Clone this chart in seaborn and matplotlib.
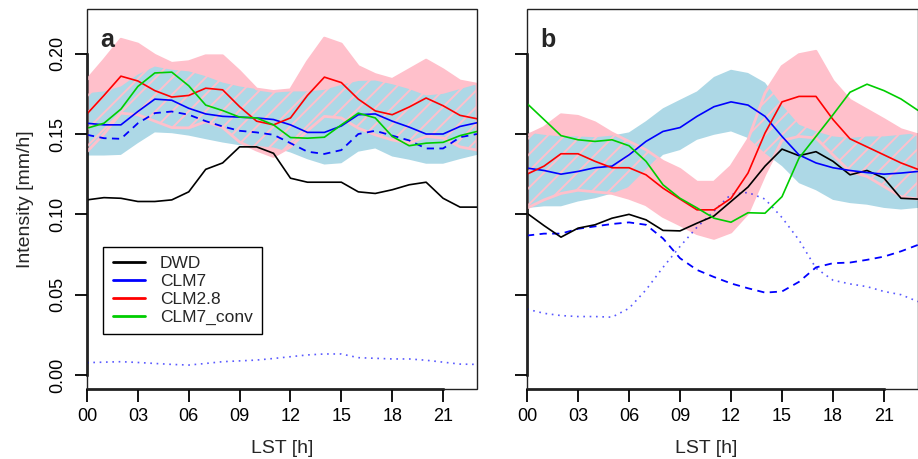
import numpy as np
import pandas as pd
import matplotlib
matplotlib.use("Agg")
import matplotlib.pyplot as plt
from matplotlib.patches import Rectangle
from matplotlib.lines import Line2D
import seaborn as sns

sns.set_theme(style="white")
plt.rcParams['font.family'] = ['Liberation Sans', 'DejaVu Sans']
plt.rcParams['hatch.linewidth'] = 1.4

hours = list(range(24))
xtick_vals = [0, 3, 6, 9, 12, 15, 18, 21]
xtick_labels = ["00", "03", "06", "09", "12", "15", "18", "21"]
ytick_vals = [0.00, 0.05, 0.10, 0.15, 0.20]
ytick_labels = ["0.00", "0.05", "0.10", "0.15", "0.20"]
series_names = ["DWD", "CLM7", "CLM2.8", "CLM7_conv"]

# ---------------- panel a ----------------
dwd_a = [0.109, 0.1104, 0.110, 0.108, 0.108, 0.109, 0.114, 0.128, 0.132, 0.142, 0.142, 0.138,
         0.1225, 0.120, 0.120, 0.120, 0.114, 0.113, 0.1153, 0.1184, 0.120, 0.110, 0.1045, 0.1045]
clm7_a = [0.1567, 0.1557, 0.1557, 0.164, 0.1717, 0.171, 0.166, 0.1625, 0.161, 0.1605, 0.160, 0.159,
          0.1557, 0.151, 0.151, 0.155, 0.162, 0.1625, 0.158, 0.1543, 0.150, 0.150, 0.1547, 0.157]
clm28_a = [0.1625, 0.174, 0.186, 0.183, 0.177, 0.173, 0.174, 0.1785, 0.1775, 0.167, 0.158, 0.1557,
           0.160, 0.174, 0.1854, 0.182, 0.1717, 0.1644, 0.162, 0.1668, 0.1724, 0.1676, 0.1616, 0.1595]
conv_a = [0.1536, 0.1567, 0.1655, 0.1796, 0.188, 0.1885, 0.180, 0.168, 0.1646, 0.1605, 0.160, 0.1557,
          0.1478, 0.1474, 0.148, 0.1557, 0.163, 0.160, 0.1485, 0.1427, 0.1443, 0.1448, 0.149, 0.1516]
dash_a = [0.1495, 0.1474, 0.147, 0.1567, 0.163, 0.164, 0.162, 0.158, 0.1547, 0.152, 0.151, 0.1495,
          0.1443, 0.139, 0.1376, 0.140, 0.150, 0.152, 0.149, 0.146, 0.141, 0.141, 0.148, 0.150]
dot_a = [0.0077, 0.008, 0.0083, 0.0078, 0.0072, 0.0066, 0.0062, 0.0072, 0.0083, 0.0088, 0.0093, 0.0103,
         0.0114, 0.0125, 0.0131, 0.0131, 0.0108, 0.0104, 0.010, 0.010, 0.0092, 0.008, 0.0068, 0.0066]
pink_hi_a = [0.1837, 0.196, 0.209, 0.206, 0.199, 0.194, 0.195, 0.1987, 0.1987, 0.189, 0.178, 0.1765,
             0.1775, 0.195, 0.2097, 0.206, 0.192, 0.187, 0.184, 0.190, 0.196, 0.190, 0.183, 0.181]
pink_lo_a = [0.139, 0.150, 0.163, 0.162, 0.158, 0.154, 0.1538, 0.1577, 0.154, 0.145, 0.140, 0.136,
             0.142, 0.152, 0.161, 0.160, 0.1536, 0.1495, 0.1463, 0.1443, 0.1485, 0.1475, 0.142, 0.140]
blue_hi_a = [0.1754, 0.1765, 0.1796, 0.187, 0.192, 0.190, 0.189, 0.186, 0.182, 0.1796, 0.178, 0.1765,
             0.1765, 0.1765, 0.1775, 0.1806, 0.183, 0.1833, 0.181, 0.178, 0.174, 0.175, 0.178, 0.181]
blue_lo_a = [0.1366, 0.1366, 0.137, 0.1443, 0.151, 0.1505, 0.149, 0.1468, 0.1447, 0.143, 0.1426, 0.1416,
             0.1385, 0.1343, 0.131, 0.1318, 0.139, 0.141, 0.136, 0.134, 0.1315, 0.1315, 0.1344, 0.137]

# ---------------- panel b ----------------
dwd_b = [0.1007, 0.093, 0.0858, 0.0914, 0.0935, 0.0976, 0.100, 0.0966, 0.090, 0.0897, 0.0945, 0.099,
         0.108, 0.117, 0.130, 0.1406, 0.1365, 0.139, 0.133, 0.1246, 0.1273, 0.1225, 0.110, 0.1095]
clm7_b = [0.1288, 0.1273, 0.125, 0.1267, 0.129, 0.130, 0.137, 0.1454, 0.1516, 0.154, 0.161, 0.167,
          0.170, 0.168, 0.161, 0.1485, 0.137, 0.132, 0.129, 0.1273, 0.126, 0.125, 0.1257, 0.1267]
clm28_b = [0.125, 0.130, 0.1377, 0.1377, 0.133, 0.129, 0.129, 0.1246, 0.1163, 0.1095, 0.1028, 0.1028,
           0.110, 0.1257, 0.1506, 0.170, 0.1734, 0.1734, 0.159, 0.147, 0.142, 0.137, 0.132, 0.128]
conv_b = [0.169, 0.159, 0.149, 0.1464, 0.1454, 0.1464, 0.1427, 0.133, 0.1184, 0.110, 0.104, 0.0976,
          0.0951, 0.101, 0.1007, 0.111, 0.135, 0.1485, 0.162, 0.176, 0.181, 0.177, 0.1718, 0.1647]
dash_b = [0.0868, 0.088, 0.088, 0.091, 0.0925, 0.094, 0.095, 0.0935, 0.085, 0.0727, 0.0654, 0.061,
          0.057, 0.054, 0.0513, 0.052, 0.058, 0.067, 0.0696, 0.070, 0.0717, 0.0737, 0.077, 0.081]
dot_b = [0.041, 0.0384, 0.037, 0.0364, 0.0364, 0.036, 0.0415, 0.053, 0.067, 0.080, 0.092, 0.102,
         0.1125, 0.1136, 0.1095, 0.098, 0.084, 0.0665, 0.059, 0.0567, 0.055, 0.052, 0.050, 0.0457]
pink_hi_b = [0.149, 0.154, 0.162, 0.161, 0.157, 0.1506, 0.1454, 0.1402, 0.133, 0.128, 0.120, 0.120,
             0.1298, 0.1464, 0.1755, 0.192, 0.1994, 0.2015, 0.183, 0.171, 0.165, 0.159, 0.1527, 0.1495]
pink_lo_b = [0.1039, 0.109, 0.113, 0.115, 0.114, 0.113, 0.110, 0.106, 0.0987, 0.0935, 0.088, 0.085,
             0.089, 0.1007, 0.125, 0.146, 0.1485, 0.1475, 0.137, 0.1267, 0.1236, 0.1173, 0.111, 0.1095]
blue_hi_b = [0.151, 0.1495, 0.1485, 0.1485, 0.148, 0.149, 0.151, 0.158, 0.166, 0.1713, 0.1765, 0.1855,
             0.190, 0.188, 0.182, 0.168, 0.1558, 0.1516, 0.1485, 0.1475, 0.1485, 0.1485, 0.1495, 0.1506]
blue_lo_b = [0.1039, 0.105, 0.105, 0.108, 0.110, 0.113, 0.117, 0.1267, 0.137, 0.140, 0.1464, 0.1495,
             0.1516, 0.1475, 0.138, 0.130, 0.1194, 0.115, 0.109, 0.107, 0.106, 0.104, 0.103, 0.104]

PINK = '#FFC0CB'
LBLUE = '#ADD8E6'
GREEN = '#00CD00'
colors = ['black', '#0000FF', '#FF0000', GREEN]

W, H = 918, 459
fig = plt.figure(figsize=(W / 100, H / 100), dpi=100)

def px_axes(x0, x1, y0, y1):
    return fig.add_axes([x0 / W, 1 - y1 / H, (x1 - x0) / W, (y1 - y0) / H])

ax_a = px_axes(87, 477, 9, 389)
ax_b = px_axes(527, 918, 9, 389)

panels = [
    (ax_a, "a", dwd_a, clm7_a, clm28_a, conv_a, dash_a, dot_a, pink_hi_a, pink_lo_a, blue_hi_a, blue_lo_a),
    (ax_b, "b", dwd_b, clm7_b, clm28_b, conv_b, dash_b, dot_b, pink_hi_b, pink_lo_b, blue_hi_b, blue_lo_b),
]

for (ax, tag, dwd, c7, c28, cv, dsh, dt, phi, plo, bhi, blo) in panels:
    ax.set_facecolor('white')
    ax.fill_between(hours, plo, phi, facecolor=PINK, edgecolor='none', linewidth=0, zorder=1)
    ax.fill_between(hours, blo, bhi, facecolor=LBLUE, edgecolor='none', linewidth=0, zorder=2)
    ax.fill_between(hours, plo, phi, facecolor='none', edgecolor=PINK, hatch='//',
                    linewidth=2.0, zorder=3)

    df = pd.DataFrame({"hour": hours, "DWD": dwd, "CLM7": c7, "CLM2.8": c28, "CLM7_conv": cv,
                       "dash": dsh, "dot": dt})
    sns.lineplot(data=df, x="hour", y="dot", ax=ax, color='#0000FF', lw=1.2, alpha=0.65,
                 linestyle=(0, (1, 2.8)), legend=False, zorder=4)
    sns.lineplot(data=df, x="hour", y="dash", ax=ax, color='#0000FF', lw=1.3,
                 linestyle=(0, (4, 3)), legend=False, zorder=4)
    for name, col in zip(series_names, colors):
        sns.lineplot(data=df, x="hour", y=name, ax=ax, color=col, lw=1.2, legend=False, zorder=5)

    ax.set_xlim(0, 23)
    ax.set_ylim(-0.0087, 0.2278)
    ax.set_xticks(xtick_vals)
    ax.set_xticklabels(xtick_labels, fontsize=13)
    ax.set_yticks(ytick_vals)
    if tag == "a":
        ax.set_yticklabels(ytick_labels, fontsize=13, rotation=90, va='center')
        ax.set_ylabel("Intensity [mm/h]", fontsize=14, labelpad=11)
    else:
        ax.set_yticklabels([])
        ax.set_ylabel("")
    ax.set_xlabel("LST [h]", fontsize=14, labelpad=6)
    ax.tick_params(axis='both', which='both', direction='out', length=9, width=1.3,
                   color='black', labelcolor='black', pad=5, bottom=True, left=True)
    ax.tick_params(axis='y', pad=6)
    for s in ['top', 'right']:
        ax.spines[s].set_visible(False)
    ax.spines['bottom'].set_bounds(0, 21)
    ax.spines['left'].set_bounds(0, 0.20)
    for s in ['bottom', 'left']:
        ax.spines[s].set_color('black')
        ax.spines[s].set_linewidth(1.8)
        ax.spines[s].set_visible(True)
    ax.add_patch(Rectangle((0, 0), 1, 1, transform=ax.transAxes, fill=False,
                           edgecolor='#222222', linewidth=1.0, clip_on=False, zorder=6))
    ax.grid(False)
    ax.text(0.033, 0.90, tag, transform=ax.transAxes, fontsize=18, fontweight='bold',
            ha='left', va='baseline', zorder=7)

ax_b.xaxis.set_label_coords((706 - 527) / 391, -0.135)
ax_a.xaxis.set_label_coords(0.5, -0.135)

handles = [Line2D([], [], color=c, lw=2.0) for c in colors]
leg = ax_a.legend(handles, series_names, loc='upper left',
                  bbox_to_anchor=((103.3 - 87) / 390, (389 - 246.7) / 380),
                  fontsize=12.5, frameon=True, fancybox=False, shadow=False,
                  handlelength=1.85, handletextpad=0.85, labelspacing=0.15,
                  borderpad=0.55, borderaxespad=0.0)
leg.get_frame().set_edgecolor('black')
leg.get_frame().set_linewidth(1.0)
leg.get_frame().set_facecolor('white')
leg.get_frame().set_alpha(1.0)
leg.set_zorder(8)

fig.savefig("out.png", dpi=100)
